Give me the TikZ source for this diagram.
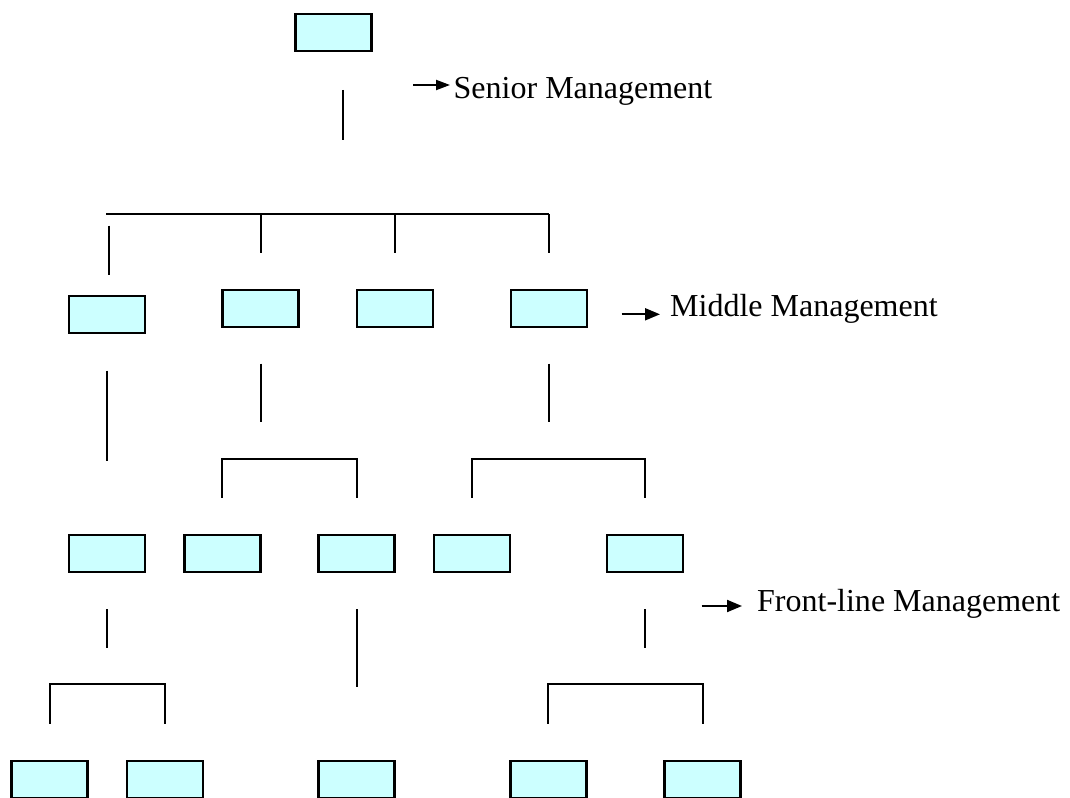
\documentclass[tikz,border=0pt]{standalone}
\usepackage{fontspec}
\setmainfont{Liberation Serif}
\usetikzlibrary{arrows.meta}
\definecolor{boxfill}{HTML}{CCFFFF}
\tikzset{
  unit/.style={draw=black, fill=boxfill, line width=2.2bp, inner sep=0pt,
               minimum width=76bp, minimum height=37bp},
  conn/.style={line width=2bp, line cap=butt},
  levelarrow/.style={line width=2bp, -{Triangle[length=15bp,width=12bp]}},
  levellabel/.style={anchor=base west, inner sep=0pt,
                     font=\fontsize{32bp}{38bp}\selectfont}
}
\begin{document}
\begin{tikzpicture}[x=1bp,y=-1bp]
\useasboundingbox (0,0) rectangle (1070,798);

% ---- units ----
\node[unit] (top) at (333.5,32.5) {};

\node[unit] (m1) at (107,314.7) {};
\node[unit] (m2) at (260.5,308.3) {};
\node[unit] (m3) at (395.2,308.3) {};
\node[unit] (m4) at (548.8,308.3) {};

\node[unit] (f1) at (107,553.5) {};
\node[unit] (f2) at (222.4,553.5) {};
\node[unit] (f3) at (356.5,553.5) {};
\node[unit] (f4) at (471.8,553.5) {};
\node[unit] (f5) at (644.6,553.5) {};

\node[unit] (w1) at (49.5,779.5) {};
\node[unit] (w2) at (164.9,779.5) {};
\node[unit] (w3) at (356.5,779.5) {};
\node[unit] (w4) at (548.4,779.5) {};
\node[unit] (w5) at (702.5,779.5) {};

% ---- level labels ----
\node[levellabel] (senior) at (453.5,98.3) {Senior Management};
\node[levellabel] (middle) at (670,316.7) {Middle Management};
\node[levellabel] (front)  at (757,611.7) {Front-line Management};

\coordinate (sa) at (413,85);
\coordinate (ma) at (621.7,314.3);
\coordinate (fa) at (701.7,606);
\draw[levelarrow, -{Triangle[length=14bp,width=10bp]}, shorten >=3.5bp] (sa) -- (sa -| senior.west);
\draw[levelarrow, shorten >=10bp]  (ma) -- (ma -| middle.west);
\draw[levelarrow, shorten >=15bp]  (fa) -- (fa -| front.west);

% ---- rows used by the connectors ----
\coordinate (y090) at (0,90);
\coordinate (y140) at (0,140);
\coordinate (y214) at (0,214);
\coordinate (y253) at (0,252.7);
\coordinate (y226) at (0,225.7);
\coordinate (y275) at (0,275);
\coordinate (y364) at (0,363.7);
\coordinate (y371) at (0,370.7);
\coordinate (y422) at (0,422.3);
\coordinate (y459) at (0,459);
\coordinate (y461) at (0,460.7);
\coordinate (y498) at (0,497.7);
\coordinate (y609) at (0,609);
\coordinate (y648) at (0,648.3);
\coordinate (y687) at (0,686.7);
\coordinate (y684) at (0,684.3);
\coordinate (y724) at (0,723.7);

% ---- senior to middle ----
\coordinate (tl) at (342.7,0);
\draw[conn] (tl |- y090) -- (tl |- y140);
\coordinate (barL) at (106.4,214);
\draw[conn] (barL) -- (m4 |- y214);
\foreach \n in {m2,m3,m4} \draw[conn] (\n |- y214) -- (\n |- y253);
\coordinate (al) at (109,0);
\draw[conn] (al |- y226) -- (al |- y275);

% ---- middle to front-line ----
\draw[conn] (f1 |- y371) -- (f1 |- y461);
\draw[conn] (m2 |- y364) -- (m2 |- y422);
\draw[conn] (m4 |- y364) -- (m4 |- y422);
\draw[conn] (f2 |- y498) -- (f2 |- y459) -- (f3 |- y459) -- (f3 |- y498);
\draw[conn] (f4 |- y498) -- (f4 |- y459) -- (f5 |- y459) -- (f5 |- y498);

% ---- front-line to workers ----
\draw[conn] (f1 |- y609) -- (f1 |- y648);
\draw[conn] (f3 |- y609) -- (f3 |- y687);
\draw[conn] (f5 |- y609) -- (f5 |- y648);
\draw[conn] (w1 |- y724) -- (w1 |- y684) -- (w2 |- y684) -- (w2 |- y724);
\draw[conn] (w4 |- y724) -- (w4 |- y684) -- (w5 |- y684) -- (w5 |- y724);
\end{tikzpicture}
\end{document}
